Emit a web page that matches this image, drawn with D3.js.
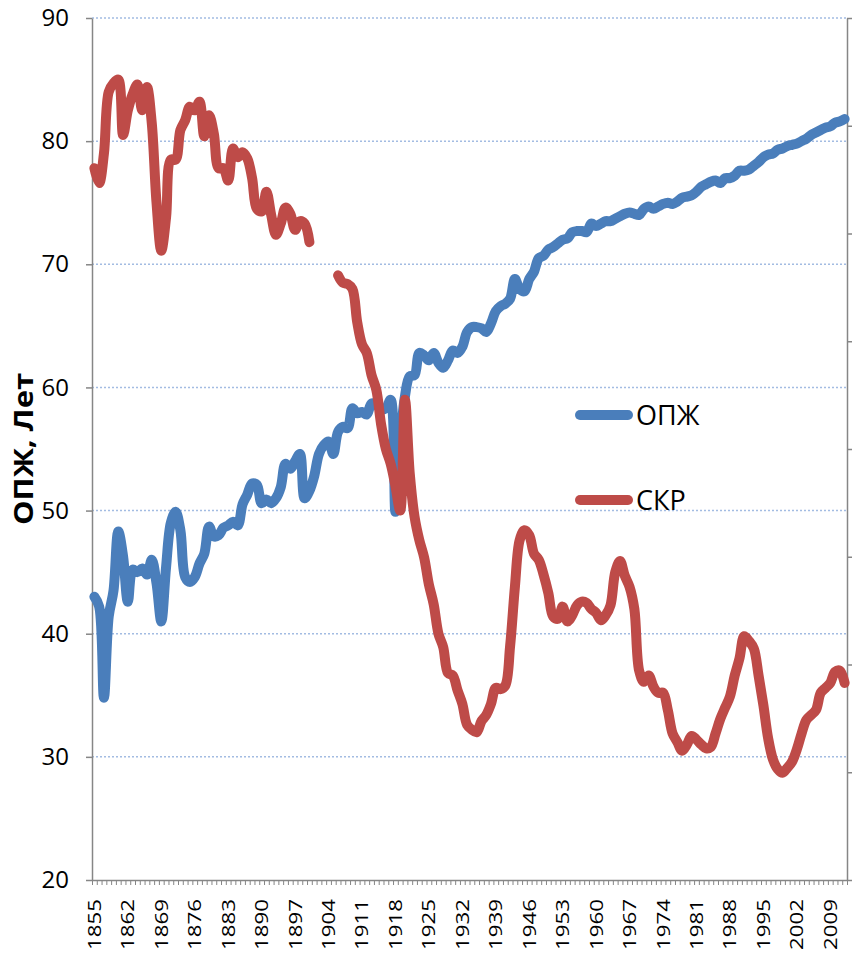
<!DOCTYPE html>
<html>
<head>
<meta charset="utf-8">
<script src="https://cdn.jsdelivr.net/npm/d3@7"></script>
<style>
  body { margin: 0; background: #fff; }
  svg { display: block; font-family: "Open Sans", sans-serif; }
</style>
</head>
<body>
<div id="chart"></div>
<script>
// categories: one per year
const years = d3.range(1855, 2013);
// labelled years on the bottom axis
const tickYears = [1855, 1862, 1869, 1876, 1883, 1890, 1897, 1904, 1911, 1918, 1925, 1932,
  1939, 1946, 1953, 1960, 1967, 1974, 1981, 1988, 1995, 2002, 2009];
const yTicks = [20, 30, 40, 50, 60, 70, 80, 90];

// ОПЖ, 1855..2012
const opzh = [
  43.0, 42.2, 34.8, 41.4, 43.5,
  48.3, 46.3, 42.6, 45.2, 45.0, 45.3, 44.8, 46.0, 44.1, 41.0,
  45.4, 49.0, 49.9, 48.4, 44.6, 44.2, 44.6, 45.7, 46.5, 48.7,
  47.9, 48.0, 48.6, 48.8, 49.1, 48.8, 50.5, 51.3, 52.2, 52.1,
  50.6, 50.9, 50.6, 51.0, 51.9, 53.8, 53.4, 54.0, 54.6, 51.0,
  51.6, 52.8, 54.6, 55.3, 55.6, 54.6, 56.4, 56.8, 56.7, 58.3,
  57.9, 58.0, 57.8, 58.7, 58.6, 58.2, 58.3, 59.0, 49.9, 55.5,
  59.3, 60.9, 61.0, 62.8, 62.6, 62.2, 62.8, 62.0, 61.6, 62.2,
  63.0, 62.8, 63.3, 64.5, 64.9, 64.9, 64.8, 64.5, 65.2, 66.2,
  66.6, 66.8, 67.2, 68.8, 68.0, 67.8, 68.8, 69.4, 70.5, 70.7,
  71.2, 71.4, 71.7, 72.0, 72.1, 72.6, 72.7, 72.7, 72.6, 73.3,
  73.1, 73.3, 73.5, 73.5, 73.7, 73.9, 74.1, 74.2, 74.1, 74.0,
  74.5, 74.7, 74.5, 74.7, 74.9, 75.0, 74.9, 75.1, 75.4, 75.5,
  75.6, 75.9, 76.3, 76.5, 76.7, 76.8, 76.6, 77.0, 77.0, 77.2,
  77.6, 77.6, 77.7, 78.0, 78.3, 78.7, 78.9, 79.0, 79.3, 79.4,
  79.6, 79.7, 79.8, 80.0, 80.2, 80.5, 80.7, 80.9, 81.1, 81.2,
  81.5, 81.6, 81.8
];

// СКР, 1855..2012 (no data 1901-1905)
const skr = [
  77.8, 76.6, 79.0, 84.0, 84.7,
  85.0, 80.5, 82.5, 83.8, 84.6, 82.5, 84.4, 81.5, 75.0, 71.1,
  73.8, 78.5, 78.5, 80.9, 81.7, 82.8, 82.5, 83.2, 80.4, 82.1,
  80.6, 77.8, 77.8, 76.8, 79.4, 78.7, 79.1, 78.6, 77.0, 74.5,
  74.3, 75.9, 74.0, 72.4, 73.3, 74.6, 74.1, 72.8, 73.5, 73.3,
  71.8, null, null, null, null, null, 69.1, 68.5, 68.4, 68.0,
  65.3, 63.5, 62.8, 61.0, 59.8, 57.0, 55.0, 53.8, 52.0, 50.0,
  59.0, 53.0, 49.5, 47.6, 46.2, 44.0, 42.4, 40.0, 38.9, 36.8,
  36.6, 35.4, 34.3, 32.6, 32.2, 32.0, 32.9, 33.4, 34.3, 35.6,
  35.5, 35.8, 39.0, 43.8, 47.6, 48.4, 48.0, 46.5, 46.0, 44.8,
  43.3, 41.4, 41.2, 42.2, 41.0, 41.5, 42.3, 42.6, 42.5, 42.0,
  41.7, 41.1, 41.5, 42.3, 45.0, 45.9, 44.7, 43.8, 42.0, 37.0,
  36.1, 36.6, 35.7, 35.2, 35.2, 33.8, 31.9, 31.2, 30.5, 31.0,
  31.7, 31.4, 31.0, 30.7, 30.8, 31.9, 33.1, 34.0, 34.9, 36.6,
  38.0, 39.8, 39.4, 38.8, 36.6, 34.2, 31.5, 29.8, 29.0, 28.7,
  29.1, 29.6, 30.6, 31.9, 33.0, 33.4, 33.8, 35.2, 35.6, 36.0,
  36.9, 37.0, 36.0
];

const seriesNames = ["ОПЖ", "СКР"];
const seriesColors = ["#4A7EBB", "#BE4B48"];

// size of the page and the plot area
const width = 852;
const height = 953;
const margin = { left: 92, right: 5, top: 18, bottom: 73 };
const axisColor = "#868686";

const svg = d3.select("#chart")
  .append("svg")
  .attr("width", width)
  .attr("height", height);

// scales
const xScale = d3.scaleBand()
  .domain(years)
  .range([margin.left, width - margin.right]);

const yScale = d3.scaleLinear()
  .domain([20, 90])
  .range([height - margin.bottom, margin.top]);

// the right axis only shows 8 empty intervals
const yRight = d3.scaleLinear()
  .domain([0, 8])
  .range([height - margin.bottom, margin.top]);

const bw = xScale.bandwidth();

// dotted grid lines
svg.append("g")
  .selectAll("line")
  .data(yTicks.slice(1))
  .join("line")
  .attr("x1", margin.left)
  .attr("x2", width - margin.right)
  .attr("y1", d => yScale(d))
  .attr("y2", d => yScale(d))
  .attr("stroke", "#a3bce2")
  .attr("stroke-width", 1.5)
  .attr("stroke-dasharray", "2,2");

// left axis
const yAxis = svg.append("g")
  .attr("transform", `translate(${margin.left},0)`)
  .call(d3.axisLeft(yScale).tickValues(yTicks).tickSize(6).tickSizeOuter(0).tickPadding(17));
yAxis.select(".domain").attr("stroke", axisColor).attr("stroke-width", 1.5);
yAxis.selectAll(".tick line").attr("stroke", axisColor).attr("stroke-width", 1.5);
yAxis.selectAll(".tick text")
  .attr("fill", "#000")
  .attr("font-size", 24)
  .attr("font-family", "Open Sans, sans-serif");

// right axis, ticks only
const rAxis = svg.append("g")
  .attr("transform", `translate(${width - margin.right},0)`)
  .call(d3.axisRight(yRight).ticks(8).tickSize(6).tickSizeOuter(0).tickFormat(""));
rAxis.select(".domain").attr("stroke", axisColor).attr("stroke-width", 1.5);
rAxis.selectAll(".tick line").attr("stroke", axisColor).attr("stroke-width", 1.5);

// bottom axis: a tick between every year
const xBound = d3.scaleLinear()
  .domain([0, years.length])
  .range([margin.left, width - margin.right]);
const xAxis = svg.append("g")
  .attr("transform", `translate(0,${height - margin.bottom})`)
  .call(d3.axisBottom(xBound).tickValues(d3.range(years.length + 1)).tickSize(5).tickSizeOuter(0).tickFormat(""));
xAxis.select(".domain").attr("stroke", axisColor).attr("stroke-width", 1.5);
xAxis.selectAll(".tick line").attr("stroke", axisColor).attr("stroke-width", 1);

// year labels, vertical
svg.append("g")
  .selectAll("text")
  .data(tickYears)
  .join("text")
  .attr("transform", d => `translate(${xScale(d) + bw / 2},${height - margin.bottom + 19}) rotate(-90)`)
  .attr("text-anchor", "end")
  .attr("dy", "0.36em")
  .attr("font-size", 18)
  .attr("textLength", 51)
  .attr("lengthAdjust", "spacingAndGlyphs")
  .text(d => d);

// axis title
svg.append("text")
  .attr("transform", "translate(33,449) rotate(-90)")
  .attr("text-anchor", "middle")
  .attr("font-size", 26)
  .attr("font-weight", "bold")
  .attr("textLength", 152)
  .attr("lengthAdjust", "spacingAndGlyphs")
  .text("ОПЖ, Лет");

// lines
const line = d3.line()
  .defined(d => d.v != null)
  .x(d => xScale(d.year) + bw / 2)
  .y(d => yScale(d.v))
  .curve(d3.curveCatmullRom.alpha(0.5));

[opzh, skr].forEach((vals, k) => {
  const pts = years.map((year, i) => ({ year: year, v: vals[i] }));
  svg.append("path")
    .datum(pts)
    .attr("fill", "none")
    .attr("stroke", seriesColors[k])
    .attr("stroke-width", 10)
    .attr("stroke-linejoin", "round")
    .attr("stroke-linecap", "round")
    .attr("d", line);
});

// legend
const legend = svg.append("g")
  .selectAll("g")
  .data(seriesNames)
  .join("g")
  .attr("transform", (d, i) => `translate(580,${415 + i * 85})`);

legend.append("line")
  .attr("x1", 0)
  .attr("x2", 48)
  .attr("stroke", (d, i) => seriesColors[i])
  .attr("stroke-width", 10)
  .attr("stroke-linecap", "round");

legend.append("text")
  .attr("x", 56)
  .attr("dy", "0.36em")
  .attr("font-size", 27)
  .text(d => d);
</script>
</body>
</html>
